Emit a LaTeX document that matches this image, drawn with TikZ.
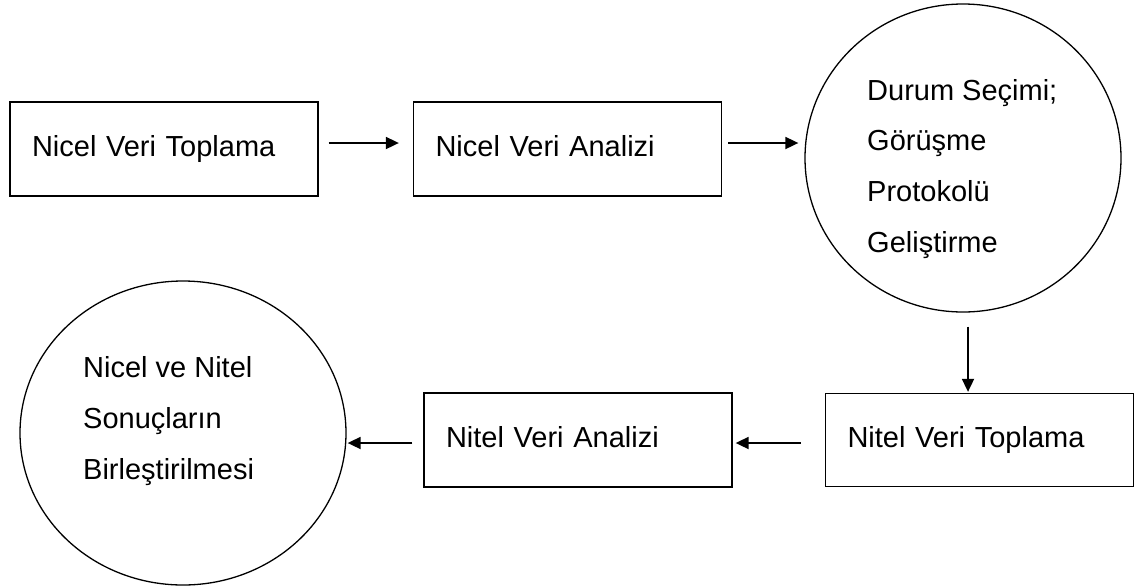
\documentclass[tikz,border=0pt]{standalone}
\usepackage{fontspec}
\setmainfont{Liberation Sans}
\usetikzlibrary{arrows.meta,shapes.geometric}
\begin{document}
\begin{tikzpicture}[x=1pt,y=-1pt,
  every node/.style={font=\fontsize{29}{50.6}\selectfont},
  stagebox/.style={draw, line width=1.3pt, rectangle, minimum height=94pt,
    inner xsep=22pt, inner ysep=0pt, text width=264pt, align=left,
    text height=21pt, text depth=6pt},
  stageround/.style={draw, line width=1.3pt, ellipse, inner sep=0pt},
  blocktext/.style={anchor=base west, inner sep=0pt, align=left},
  flow/.style={line width=1.8pt, -{Triangle[length=13pt,width=12pt]}}]
\useasboundingbox (0,0) rectangle (1134,587);

% top row
\node[stagebox] (b1) at (164,149) {Nicel Veri Toplama};
\node[stagebox] (b2) at (567.5,149) {Nicel Veri Analizi};
\node[stageround, minimum width=316pt, minimum height=308pt] (c1) at (963,158) {};
% base anchor of a multi-line node sits on its last line
\node[blocktext] (t1) at (867,252) {Durum Seçimi;\\Görüşme\\Protokolü\\Geliştirme};

% bottom row
\node[stagebox, minimum height=93pt] (b3) at (979.5,440) {Nitel Veri Toplama};
\node[stagebox] (b4) at (578,440) {Nitel Veri Analizi};
\node[stageround, minimum width=326pt, minimum height=304pt] (c2) at (183,433) {};
\node[blocktext] (t2) at (83,479) {Nicel ve Nitel\\Sonuçların\\Birleştirilmesi};

% connectors
\draw[flow, shorten <=10pt, shorten >=14pt] ([yshift=6pt]b1.east) -- ([yshift=6pt]b2.west);
\draw[flow, shorten <=6pt, shorten >=6pt] ([yshift=6pt]b2.east) -- ([yshift=6pt]b2.east -| c1.west);
\draw[flow, shorten <=14pt, shorten >=1pt] ([xshift=5pt]c1.south) -- ([xshift=5pt]c1.south |- b3.north);
\draw[flow, shorten <=24pt, shorten >=3pt] ([yshift=-3pt]b3.west) -- ([yshift=-3pt]b3.west -| b4.east);
\draw[flow, shorten <=11pt, shorten >=1pt] ([yshift=-3pt]b4.west) -- ([yshift=-3pt]b4.west -| c2.east);
\end{tikzpicture}
\end{document}
